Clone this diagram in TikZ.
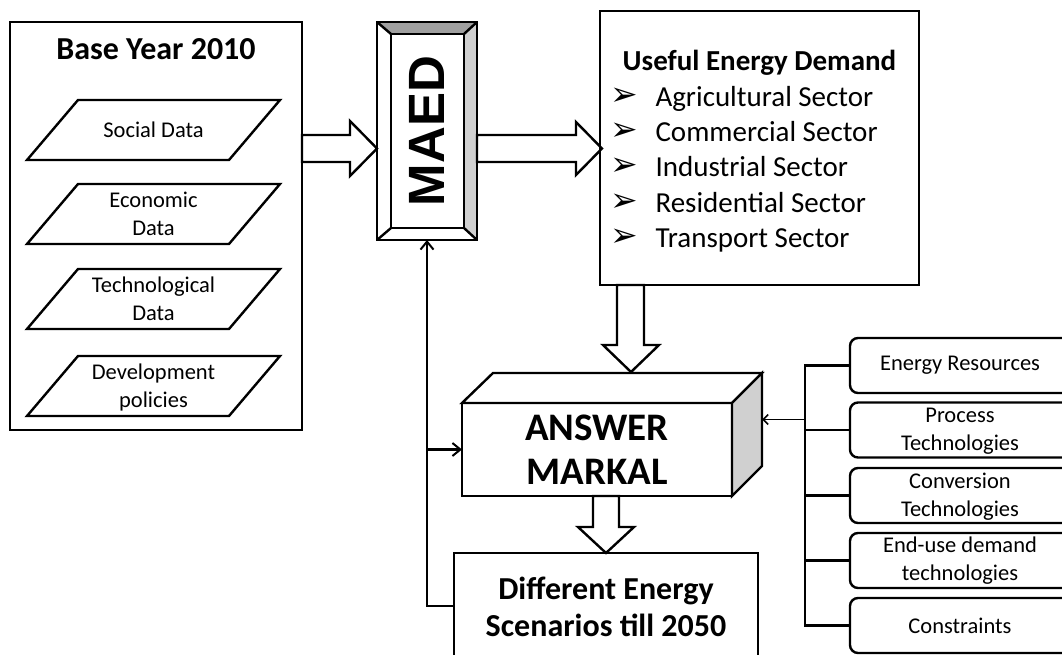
\documentclass[tikz,border=0pt]{standalone}
\usepackage{fontspec}
\setmainfont{Carlito}
\newfontfamily\arialf{Liberation Sans}
\newfontfamily\dejavuf{DejaVu Sans}
\usetikzlibrary{arrows.meta}
\definecolor{bevtop}{HTML}{A0A0A0}
\definecolor{bevside}{HTML}{D0D0D0}
\tikzset{
  ln/.style={line width=2.4pt, line join=miter},
  box/.style={draw, ln, inner sep=0pt, outer sep=0pt},
  para/.style={draw, ln, fill=white},
  blockarrow/.style={draw, ln, fill=white},
  conn/.style={line width=2.1pt, -{Straight Barb[length=8pt,width=13pt,line width=2pt]}},
  connsmall/.style={line width=1.8pt, -{Straight Barb[length=5pt,width=10pt,line width=1.6pt]}},
  plain/.style={line width=2.1pt},
  rbox/.style={draw, ln, rounded corners=8pt, minimum width=225pt, minimum height=55pt, inner sep=0pt, outer sep=0pt},
  smalltxt/.style={font=\fontsize{22.5}{28}\selectfont, align=center},
  itemtxt/.style={font=\fontsize{29}{35}\selectfont, anchor=base west},
  bullet/.style={font=\dejavuf\fontsize{33}{33}\selectfont, inner sep=0pt, text height=18pt, text depth=0pt, anchor=base},
}
\begin{document}
\begin{tikzpicture}[x=1pt,y=-1pt]
\useasboundingbox (0,0) rectangle (1062,654);
\clip (0,0) rectangle (1062,654);

% Base year box
\node[box, minimum width=292pt, minimum height=408pt] (base) at (156,226) {};
\node[font=\bfseries\fontsize{32}{38}\selectfont, anchor=base] (basetitle) at (156,59) {Base Year 2010};

% parallelograms
\draw[para] (78,100) -- (280,100) -- (229,160) -- (27,160) -- cycle;
\node[smalltxt] (social) at (153.5,130) {Social Data};
\draw[para] (78,184) -- (280,184) -- (229,244) -- (27,244) -- cycle;
\node[smalltxt] (econ) at (153.5,214) {Economic\\Data};
\draw[para] (78,269) -- (280,269) -- (229,329) -- (27,329) -- cycle;
\node[smalltxt] (tech) at (153.5,299) {Technological\\Data};
\draw[para] (78,356) -- (280,356) -- (229,416) -- (27,416) -- cycle;
\node[smalltxt] (dev) at (153.5,387) {Development\\policies};

% block arrow base -> MAED
\draw[blockarrow] (302,135) -- (350,135) -- (350,121) -- (377,148.5) -- (350,176) -- (350,162) -- (302,162) -- cycle;

% MAED bevelled box
\fill[bevtop] (377,22) -- (477,22) -- (464,34) -- (391,34) -- cycle;
\fill[bevside] (477,22) -- (477,240) -- (464,228) -- (464,34) -- cycle;
\draw[ln] (377,22) rectangle (477,240);
\draw[ln] (391,34) rectangle (464,228);
\draw[ln] (377,22) -- (391,34) (477,22) -- (464,34) (377,240) -- (391,228) (477,240) -- (464,228);
\node[inner sep=0pt, outer sep=0pt, minimum width=100pt, minimum height=218pt] (maed) at (427,131)
  {\rotatebox{90}{\arialf\bfseries\fontsize{51}{51}\selectfont MAED}};

% block arrow MAED -> useful
\draw[blockarrow] (477,135) -- (576,135) -- (576,122) -- (602,148.5) -- (576,175) -- (576,162) -- (477,162) -- cycle;

% Useful energy demand
\node[box, minimum width=319pt, minimum height=274pt] (useful) at (759.5,148) {};
\node[font=\bfseries\fontsize{29}{35}\selectfont, anchor=base] (usefultitle) at (759.5,70) {Useful Energy Demand};
\node[bullet] (b1) at (624,105) {➢};
\node[itemtxt] (i1) at (652,106) {Agricultural Sector};
\node[bullet] (b2) at (624,140) {➢};
\node[itemtxt] (i2) at (652,141) {Commercial Sector};
\node[bullet] (b3) at (624,175) {➢};
\node[itemtxt] (i3) at (652,176) {Industrial Sector};
\node[bullet] (b4) at (624,211) {➢};
\node[itemtxt] (i4) at (652,212) {Residential Sector};
\node[bullet] (b5) at (624,246) {➢};
\node[itemtxt] (i5) at (652,247) {Transport Sector};

% block arrow useful -> answer
\draw[blockarrow] (617,285) -- (617,345) -- (603,345) -- (631,372) -- (659,345) -- (644,345) -- (644,285) -- cycle;

% ANSWER MARKAL 3D box
\node[box, fill=white, minimum width=270pt, minimum height=93pt, align=center,
      font=\bfseries\fontsize{39}{44}\selectfont] (answer) at (597,449.5) {ANSWER\\MARKAL};
\draw[ln, fill=white] (answer.north west) -- ++(31,-30) -- ++(269,0) -- (answer.north east) -- cycle;
\draw[ln, fill=bevside] (answer.north east) -- ++(30,-30) -- ++(0,93) -- (answer.south east) -- cycle;
\coordinate (aside) at ([shift={(30pt,30pt)}]answer.east);

% block arrow answer -> different
\draw[blockarrow] (593,496) -- (593,527) -- (578,527) -- (606,553) -- (634,527) -- (619,527) -- (619,496) -- cycle;

% Different energy scenarios
\node[box, anchor=north west, minimum width=304pt, minimum height=120pt] (diff) at (454,553) {};
\node[font=\bfseries\fontsize{32}{37}\selectfont, align=center] (difftext) at (606,607) {Different Energy\\Scenarios till 2050};

% right boxes
\node[rbox] (er) at (962.5,365.5) {};
\node[smalltxt] (ert) at (960,365.5) {Energy Resources};
\node[rbox] (pt) at (962.5,430) {};
\node[smalltxt] (ptt) at (960,431) {Process\\Technologies};
\node[rbox] (ct) at (962.5,495.5) {};
\node[smalltxt] (ctt) at (960,496.5) {Conversion\\Technologies};
\node[rbox] (ed) at (962.5,560.5) {};
\node[smalltxt] (edt) at (960,561) {End-use demand\\technologies};
\node[rbox] (con) at (962.5,625.5) {};
\node[smalltxt] (cont) at (960,626) {Constraints};

\coordinate (bus) at ([xshift=-45pt]er.west);
\draw[plain] (er.west) -| ([xshift=-45pt]con.west) -- (con.west);
\draw[plain] (pt.west) -- (bus |- pt.west);
\draw[plain] (ct.west) -- (bus |- ct.west);
\draw[plain] (ed.west) -- (bus |- ed.west);
\draw[connsmall] (bus |- aside) -- (aside);

% feedback connectors
\draw[conn] ([yshift=7pt]diff.west) -| (maed.south);
\draw[conn] (maed.south |- answer.west) -- (answer.west);
\end{tikzpicture}
\end{document}
